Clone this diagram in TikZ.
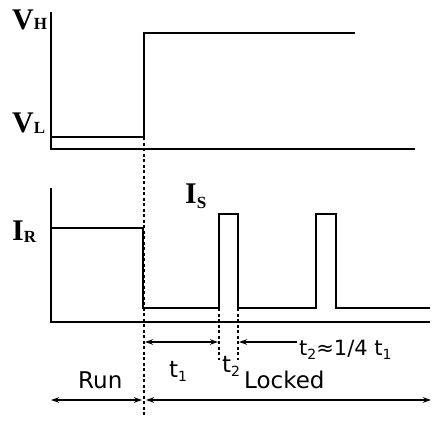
\documentclass[tikz,border=0pt]{standalone}
\usepackage{fontspec}
\setmainfont{Liberation Serif}
\setsansfont{DejaVu Sans}
\usetikzlibrary{arrows.meta}
\tikzstyle{axisline} = [line width=1.6pt]
\tikzstyle{wave}     = [line width=2pt]
\tikzstyle{guide}    = [line width=1.1pt, dash pattern=on 3pt off 2.5pt]
\tikzstyle{span}     = [line width=1.5pt, {Stealth[length=8pt,width=5.5pt]}-{Stealth[length=8pt,width=5.5pt]}]
\tikzstyle{halfspan} = [line width=1.5pt, -{Stealth[length=8pt,width=5.5pt]}]
\tikzstyle{sig}      = [font=\fontsize{30}{32}\selectfont\bfseries, inner sep=0pt, anchor=base west]
\tikzstyle{lab}      = [font=\fontsize{23}{25}\selectfont\sffamily, inner sep=0pt, anchor=base west]
\newcommand{\sigsub}[3]{#1\raisebox{-#3}{\fontsize{17}{18}\selectfont #2}}
\newcommand{\tsub}[1]{t\raisebox{-4pt}{\fontsize{14}{15}\selectfont #1}}

\begin{document}
\begin{tikzpicture}[x=1pt, y=-1pt]
    \useasboundingbox (0,0) rectangle (437,423);

    % voltage panel
    \draw [axisline] (51,12) -- (51,149) -- (415,149);
    \draw [wave] (51,137) -- (144,137) -- (144,33) -- (355,33);
    \node (vh) [sig] at (12,29)  {\sigsub{V}{H}{1pt}};
    \node (vl) [sig] at (12,132) {\sigsub{V}{L}{1pt}};

    % current panel
    \draw [axisline] (51,188) -- (51,322) -- (430,322);
    \draw [wave] (51,228) -- (143,228) -- (143,308) -- (219,308) -- (219,214) -- (238,214)
        -- (238,308) -- (316,308) -- (316,214) -- (336,214) -- (336,308) -- (430,308);
    \node (ir) [sig] at (12,240)  {\sigsub{I}{R}{2pt}};
    \node (is) [sig] at (185,203) {\sigsub{I}{S}{5pt}};

    % guides
    \draw [guide] (144,137) -- (144,416);
    \draw [guide] (219,308) -- (219,360);
    \draw [guide] (238,308) -- (238,360);

    % spans
    \coordinate (t1a) at (145,342);
    \coordinate (t1b) at (218,342);
    \coordinate (t2a) at (239,342);
    \coordinate (t2b) at (297,342);
    \coordinate (runa) at (51,400);
    \coordinate (runb) at (142,400);
    \coordinate (lcka) at (146,400);
    \coordinate (lckb) at (431,400);
    \draw [span]     (t1a)  -- (t1b);
    \draw [halfspan] (t2b)  -- (t2a);
    \draw [span]     (runa) -- (runb);
    \draw [span]     (lcka) -- (lckb);

    \node (t1)  [lab] at (169,377) {\tsub{1}};
    \node (t2)  [lab] at (222,372) {\tsub{2}};
    \node (rel) [lab, font=\fontsize{21}{23}\selectfont\sffamily] at (299,355) {\tsub{2}≈1/4 \tsub{1}};
    \node (run) [lab] at (78,388)  {Run};
    \node (lck) [lab] at (244,388) {Locked};
\end{tikzpicture}
\end{document}
